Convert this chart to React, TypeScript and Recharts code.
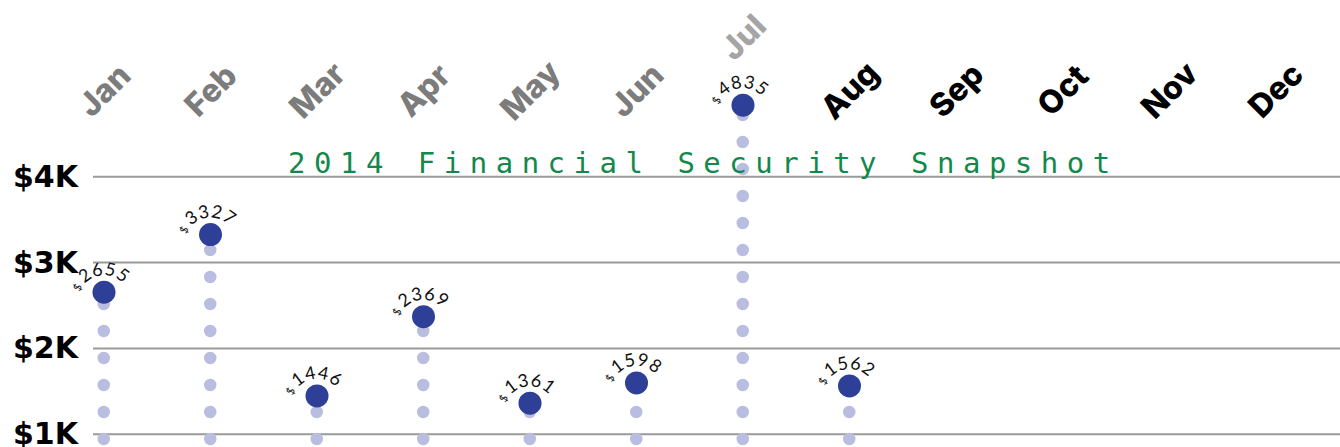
import { Bar, CartesianGrid, ComposedChart, Scatter, XAxis, YAxis } from 'recharts';

const months = ['Jan', 'Feb', 'Mar', 'Apr', 'May', 'Jun', 'Jul', 'Aug', 'Sep', 'Oct', 'Nov', 'Dec'];
const savings = [2655, 3327, 1446, 2369, 1361, 1598, 4835, 1562, null, null, null, null];
const yTicks = [1000, 2000, 3000, 4000];
const yTickLabels = ['$1K', '$2K', '$3K', '$4K'];
const title = '2014 Financial Security Snapshot';

const data = months.map((month, i) => ({ month, value: savings[i] }));

const colors = {
  dot: '#2e3f98',
  stem: '#b9bddf',
  grid: '#9a9a9a',
  past: '#7c7c7c',
  current: '#a5a5a5',
  future: '#000000',
  title: '#12894a',
};

// dotted column from the baseline up to the value
function Stem(props: any) {
  const { x, y, width, height } = props;
  if (!height || height <= 0) return null;
  const cx = x + width / 2;
  return (
    <line
      x1={cx}
      y1={y + height}
      x2={cx}
      y2={y}
      stroke={colors.stem}
      strokeWidth={12.5}
      strokeLinecap="round"
      strokeDasharray="0 27"
    />
  );
}

// big dot with the amount bent over it
function Marker(props: any) {
  const { cx, cy, payload } = props;
  if (payload?.value == null || !Number.isFinite(cy)) return null;
  const r = 26;
  const oy = cy + 9;
  const id = `arc-${payload.month}`;
  return (
    <g>
      <circle cx={cx} cy={cy} r={11.5} fill={colors.dot} />
      <path id={id} d={`M ${cx - r} ${oy} A ${r} ${r} 0 0 1 ${cx + r} ${oy}`} fill="none" />
      <text fontFamily="Lato, sans-serif" fill="#111">
        <textPath href={`#${id}`} startOffset={(Math.PI * r) / 2 - 5} textAnchor="middle">
          <tspan fontSize={11}>$</tspan>
          <tspan fontSize={18} letterSpacing={0.5} dx={3}>
            {payload.value}
          </tspan>
        </textPath>
      </text>
    </g>
  );
}

function MonthTick(props: any) {
  const { x, y, payload } = props;
  const i = props.index ?? payload.index;
  const fill = i < 6 ? colors.past : i === 6 ? colors.current : colors.future;
  const ty = y + 1 - (i === 6 ? 53 : 0);
  return (
    <text
      x={x}
      y={ty}
      transform={`rotate(-45 ${x} ${ty})`}
      textAnchor="middle"
      dominantBaseline="central"
      fill={fill}
      fontFamily="Inter, sans-serif"
      fontWeight={800}
      fontSize={32}
    >
      {payload.value}
    </text>
  );
}

function MoneyTick(props: any) {
  const { x, y, payload } = props;
  const label = yTickLabels[yTicks.indexOf(payload.value)];
  return (
    <text x={x} y={y} dy={10} textAnchor="end" fill="#000" fontFamily="DejaVu Sans, sans-serif" fontWeight={700} fontSize={30}>
      {label}
    </text>
  );
}

export default function App() {
  return (
    <div style={{ position: 'fixed', left: 0, top: 0, width: 1340, height: 447, overflow: 'hidden', background: '#fff' }}>
      <ComposedChart width={1340} height={540} data={data} margin={{ top: 0, right: 0, bottom: 20, left: 0 }}>
        <CartesianGrid vertical={false} horizontalValues={yTicks} stroke={colors.grid} strokeWidth={2} />
        <XAxis
          dataKey="month"
          orientation="top"
          height={91}
          interval={0}
          axisLine={false}
          tickLine={false}
          tickSize={0}
          padding={{ left: -42.25, right: 11.25 }}
          tick={<MonthTick />}
        />
        <YAxis
          width={93}
          domain={[0, 5000]}
          ticks={yTicks}
          axisLine={false}
          tickLine={false}
          tickSize={0}
          tickMargin={15}
          tick={<MoneyTick />}
        />
        <Bar dataKey="value" barSize={20} shape={<Stem />} isAnimationActive={false} />
        <Scatter dataKey="value" shape={<Marker />} isAnimationActive={false} />
      </ComposedChart>
      <svg width={1340} height={447} style={{ position: 'absolute', left: 0, top: 0, pointerEvents: 'none' }}>
        <text x={288} y={173} fill={colors.title} fontFamily="DejaVu Sans Mono, monospace" fontSize={29} letterSpacing={8.5}>
          {title}
        </text>
      </svg>
    </div>
  );
}
